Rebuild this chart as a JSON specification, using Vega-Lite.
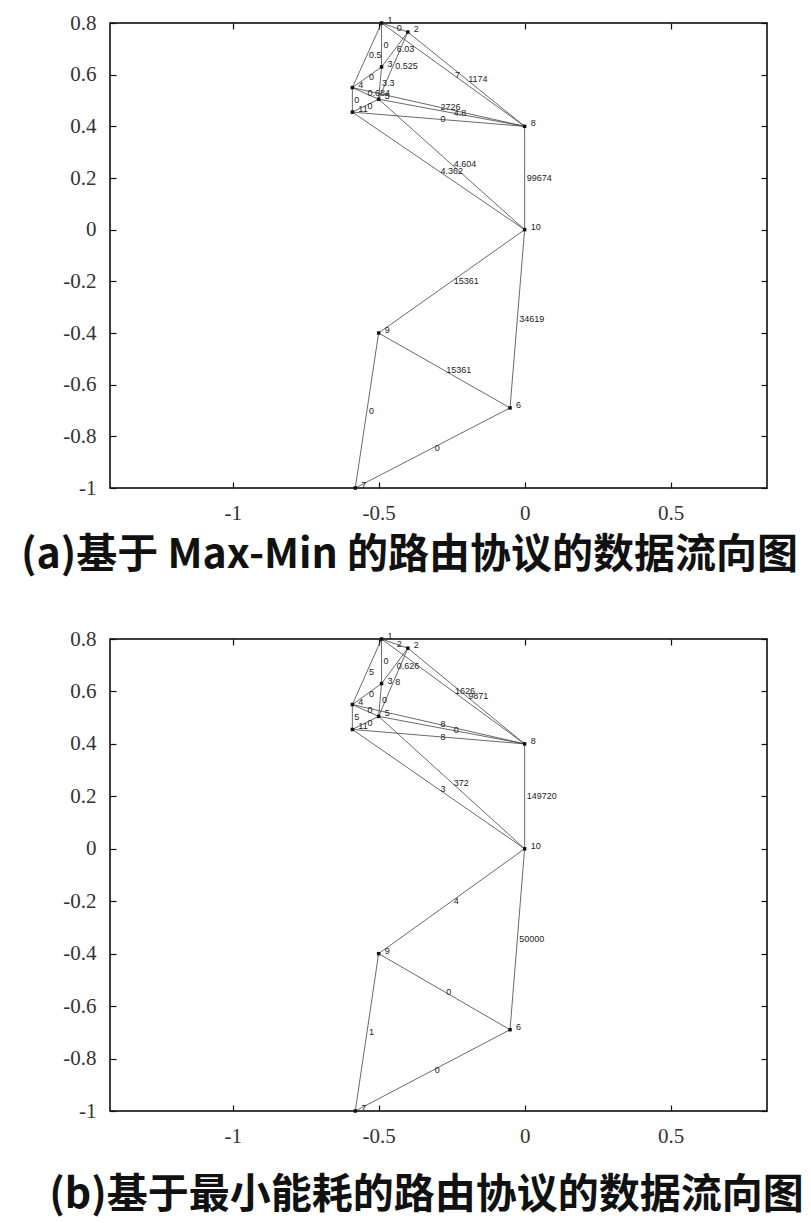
{
  "$schema": "https://vega.github.io/schema/vega-lite/v6.json",
  "background": "white",
  "padding": {"left": 19, "top": 11, "right": 5, "bottom": 5},
  "spacing": 51,
  "config": {
    "view": {"stroke": "black", "strokeWidth": 1.5},
    "axis": {
      "grid": false,
      "domain": false,
      "labelFont": "Liberation Serif",
      "labelFontSize": 21,
      "labelColor": "#333",
      "tickColor": "#111",
      "tickSize": -6,
      "tickWidth": 1.2,
      "labelPadding": 20
    }
  },
  "datasets": {
    "nodes": [
      {"id": "1", "x": -0.49, "y": 0.80},
      {"id": "2", "x": -0.40, "y": 0.765},
      {"id": "3", "x": -0.49, "y": 0.63},
      {"id": "4", "x": -0.59, "y": 0.55},
      {"id": "5", "x": -0.50, "y": 0.505},
      {"id": "11", "x": -0.59, "y": 0.455},
      {"id": "8", "x": 0.0, "y": 0.40},
      {"id": "10", "x": 0.0, "y": 0.0},
      {"id": "9", "x": -0.50, "y": -0.40},
      {"id": "6", "x": -0.05, "y": -0.69},
      {"id": "7", "x": -0.58, "y": -1.0}
    ],
    "edges": [
      {"x": -0.49, "y": 0.80, "x2": -0.40, "y2": 0.765, "mx": -0.445, "my": 0.7825, "la": "0", "lb": "2"},
      {"x": -0.49, "y": 0.80, "x2": -0.49, "y2": 0.63, "mx": -0.49, "my": 0.715, "la": "0", "lb": "0"},
      {"x": -0.49, "y": 0.80, "x2": -0.59, "y2": 0.55, "mx": -0.54, "my": 0.675, "la": "0.5", "lb": "5"},
      {"x": -0.40, "y": 0.765, "x2": -0.49, "y2": 0.63, "mx": -0.445, "my": 0.6975, "la": "6.03", "lb": "0.626"},
      {"x": -0.40, "y": 0.765, "x2": -0.50, "y2": 0.505, "mx": -0.45, "my": 0.635, "la": "0.525", "lb": "8"},
      {"x": -0.49, "y": 0.63, "x2": -0.59, "y2": 0.55, "mx": -0.54, "my": 0.59, "la": "0", "lb": "0"},
      {"x": -0.49, "y": 0.63, "x2": -0.50, "y2": 0.505, "mx": -0.495, "my": 0.5675, "la": "3.3", "lb": "0"},
      {"x": -0.59, "y": 0.55, "x2": -0.50, "y2": 0.505, "mx": -0.545, "my": 0.5275, "la": "0.684", "lb": "0"},
      {"x": -0.59, "y": 0.55, "x2": -0.59, "y2": 0.455, "mx": -0.59, "my": 0.5025, "la": "0", "lb": "5"},
      {"x": -0.50, "y": 0.505, "x2": -0.59, "y2": 0.455, "mx": -0.545, "my": 0.48, "la": "0", "lb": "0"},
      {"x": -0.49, "y": 0.80, "x2": 0.0, "y2": 0.40, "mx": -0.245, "my": 0.60, "la": "7", "lb": "1626"},
      {"x": -0.40, "y": 0.765, "x2": 0.0, "y2": 0.40, "mx": -0.20, "my": 0.5825, "la": "1174", "lb": "9871"},
      {"x": -0.59, "y": 0.55, "x2": 0.0, "y2": 0.40, "mx": -0.295, "my": 0.475, "la": "2726", "lb": "8"},
      {"x": -0.50, "y": 0.505, "x2": 0.0, "y2": 0.40, "mx": -0.25, "my": 0.4525, "la": "4.8", "lb": "0"},
      {"x": -0.59, "y": 0.455, "x2": 0.0, "y2": 0.40, "mx": -0.295, "my": 0.4275, "la": "0", "lb": "8"},
      {"x": -0.50, "y": 0.505, "x2": 0.0, "y2": 0.0, "mx": -0.25, "my": 0.2525, "la": "4.604", "lb": "372"},
      {"x": -0.59, "y": 0.455, "x2": 0.0, "y2": 0.0, "mx": -0.295, "my": 0.2275, "la": "4.362", "lb": "3"},
      {"x": 0.0, "y": 0.40, "x2": 0.0, "y2": 0.0, "mx": 0.0, "my": 0.20, "la": "99674", "lb": "149720"},
      {"x": 0.0, "y": 0.0, "x2": -0.50, "y2": -0.40, "mx": -0.25, "my": -0.20, "la": "15361", "lb": "4"},
      {"x": 0.0, "y": 0.0, "x2": -0.05, "y2": -0.69, "mx": -0.025, "my": -0.345, "la": "34619", "lb": "50000"},
      {"x": -0.50, "y": -0.40, "x2": -0.05, "y2": -0.69, "mx": -0.275, "my": -0.545, "la": "15361", "lb": "0"},
      {"x": -0.50, "y": -0.40, "x2": -0.58, "y2": -1.0, "mx": -0.54, "my": -0.70, "la": "0", "lb": "1"},
      {"x": -0.58, "y": -1.0, "x2": -0.05, "y2": -0.69, "mx": -0.315, "my": -0.845, "la": "0", "lb": "0"}
    ]
  },
  "vconcat": [
    {
      "width": 657,
      "height": 465,
      "resolve": {"axis": {"x": "independent", "y": "independent"}},
      "layer": [
        {
          "data": {"name": "edges"},
          "mark": {"type": "rule", "color": "#444", "strokeWidth": 0.8},
          "encoding": {
            "x": {"field": "x", "type": "quantitative",
              "scale": {"domain": [-1.42, 0.83], "nice": false, "zero": false},
              "axis": {"values": [-1, -0.5, 0, 0.5], "labelExpr": "'' + datum.value",
                "title": "(a)基于 Max-Min 的路由协议的数据流向图",
                "titleFont": "Noto Sans CJK SC", "titleFontSize": 41, "titleFontWeight": "bold",
                "titleColor": "#111", "titlePadding": 12, "titleX": 299, "titleAlign": "center"}},
            "y": {"field": "y", "type": "quantitative",
              "scale": {"domain": [-1, 0.8], "nice": false, "zero": false},
              "axis": {"values": [-1, -0.8, -0.6, -0.4, -0.2, 0, 0.2, 0.4, 0.6, 0.8], "labelExpr": "'' + datum.value", "title": null}},
            "x2": {"field": "x2"},
            "y2": {"field": "y2"}
          }
        },
        {
          "data": {"name": "edges"},
          "mark": {"type": "text", "align": "left", "baseline": "middle", "dx": 2, "font": "Liberation Sans", "fontSize": 9, "color": "#222"},
          "encoding": {
            "x": {"field": "mx", "type": "quantitative", "axis": null},
            "y": {"field": "my", "type": "quantitative", "axis": null},
            "text": {"field": "la"}
          }
        },
        {
          "data": {"name": "nodes"},
          "mark": {"type": "point", "filled": true, "shape": "square", "size": 12, "color": "#111", "opacity": 1},
          "encoding": {
            "x": {"field": "x", "type": "quantitative", "axis": {"orient": "top", "labels": false, "values": [-1, -0.5, 0, 0.5], "title": null}},
            "y": {"field": "y", "type": "quantitative", "axis": {"orient": "right", "labels": false, "values": [-1, -0.8, -0.6, -0.4, -0.2, 0, 0.2, 0.4, 0.6, 0.8], "title": null}}
          }
        },
        {
          "data": {"name": "nodes"},
          "mark": {"type": "text", "align": "left", "baseline": "middle", "dx": 6, "dy": -3, "font": "Liberation Sans", "fontSize": 9, "color": "#222"},
          "encoding": {
            "x": {"field": "x", "type": "quantitative", "axis": null},
            "y": {"field": "y", "type": "quantitative", "axis": null},
            "text": {"field": "id"}
          }
        }
      ]
    },
    {
      "width": 657,
      "height": 472,
      "resolve": {"axis": {"x": "independent", "y": "independent"}},
      "layer": [
        {
          "data": {"name": "edges"},
          "mark": {"type": "rule", "color": "#444", "strokeWidth": 0.8},
          "encoding": {
            "x": {"field": "x", "type": "quantitative",
              "scale": {"domain": [-1.42, 0.83], "nice": false, "zero": false},
              "axis": {"values": [-1, -0.5, 0, 0.5], "labelExpr": "'' + datum.value",
                "title": "(b)基于最小能耗的路由协议的数据流向图",
                "titleFont": "Noto Sans CJK SC", "titleFontSize": 41, "titleFontWeight": "bold",
                "titleColor": "#111", "titlePadding": 29, "titleX": 316, "titleAlign": "center"}},
            "y": {"field": "y", "type": "quantitative",
              "scale": {"domain": [-1, 0.8], "nice": false, "zero": false},
              "axis": {"values": [-1, -0.8, -0.6, -0.4, -0.2, 0, 0.2, 0.4, 0.6, 0.8], "labelExpr": "'' + datum.value", "title": null}},
            "x2": {"field": "x2"},
            "y2": {"field": "y2"}
          }
        },
        {
          "data": {"name": "edges"},
          "mark": {"type": "text", "align": "left", "baseline": "middle", "dx": 2, "font": "Liberation Sans", "fontSize": 9, "color": "#222"},
          "encoding": {
            "x": {"field": "mx", "type": "quantitative", "axis": null},
            "y": {"field": "my", "type": "quantitative", "axis": null},
            "text": {"field": "lb"}
          }
        },
        {
          "data": {"name": "nodes"},
          "mark": {"type": "point", "filled": true, "shape": "square", "size": 12, "color": "#111", "opacity": 1},
          "encoding": {
            "x": {"field": "x", "type": "quantitative", "axis": {"orient": "top", "labels": false, "values": [-1, -0.5, 0, 0.5], "title": null}},
            "y": {"field": "y", "type": "quantitative", "axis": {"orient": "right", "labels": false, "values": [-1, -0.8, -0.6, -0.4, -0.2, 0, 0.2, 0.4, 0.6, 0.8], "title": null}}
          }
        },
        {
          "data": {"name": "nodes"},
          "mark": {"type": "text", "align": "left", "baseline": "middle", "dx": 6, "dy": -3, "font": "Liberation Sans", "fontSize": 9, "color": "#222"},
          "encoding": {
            "x": {"field": "x", "type": "quantitative", "axis": null},
            "y": {"field": "y", "type": "quantitative", "axis": null},
            "text": {"field": "id"}
          }
        }
      ]
    }
  ]
}
